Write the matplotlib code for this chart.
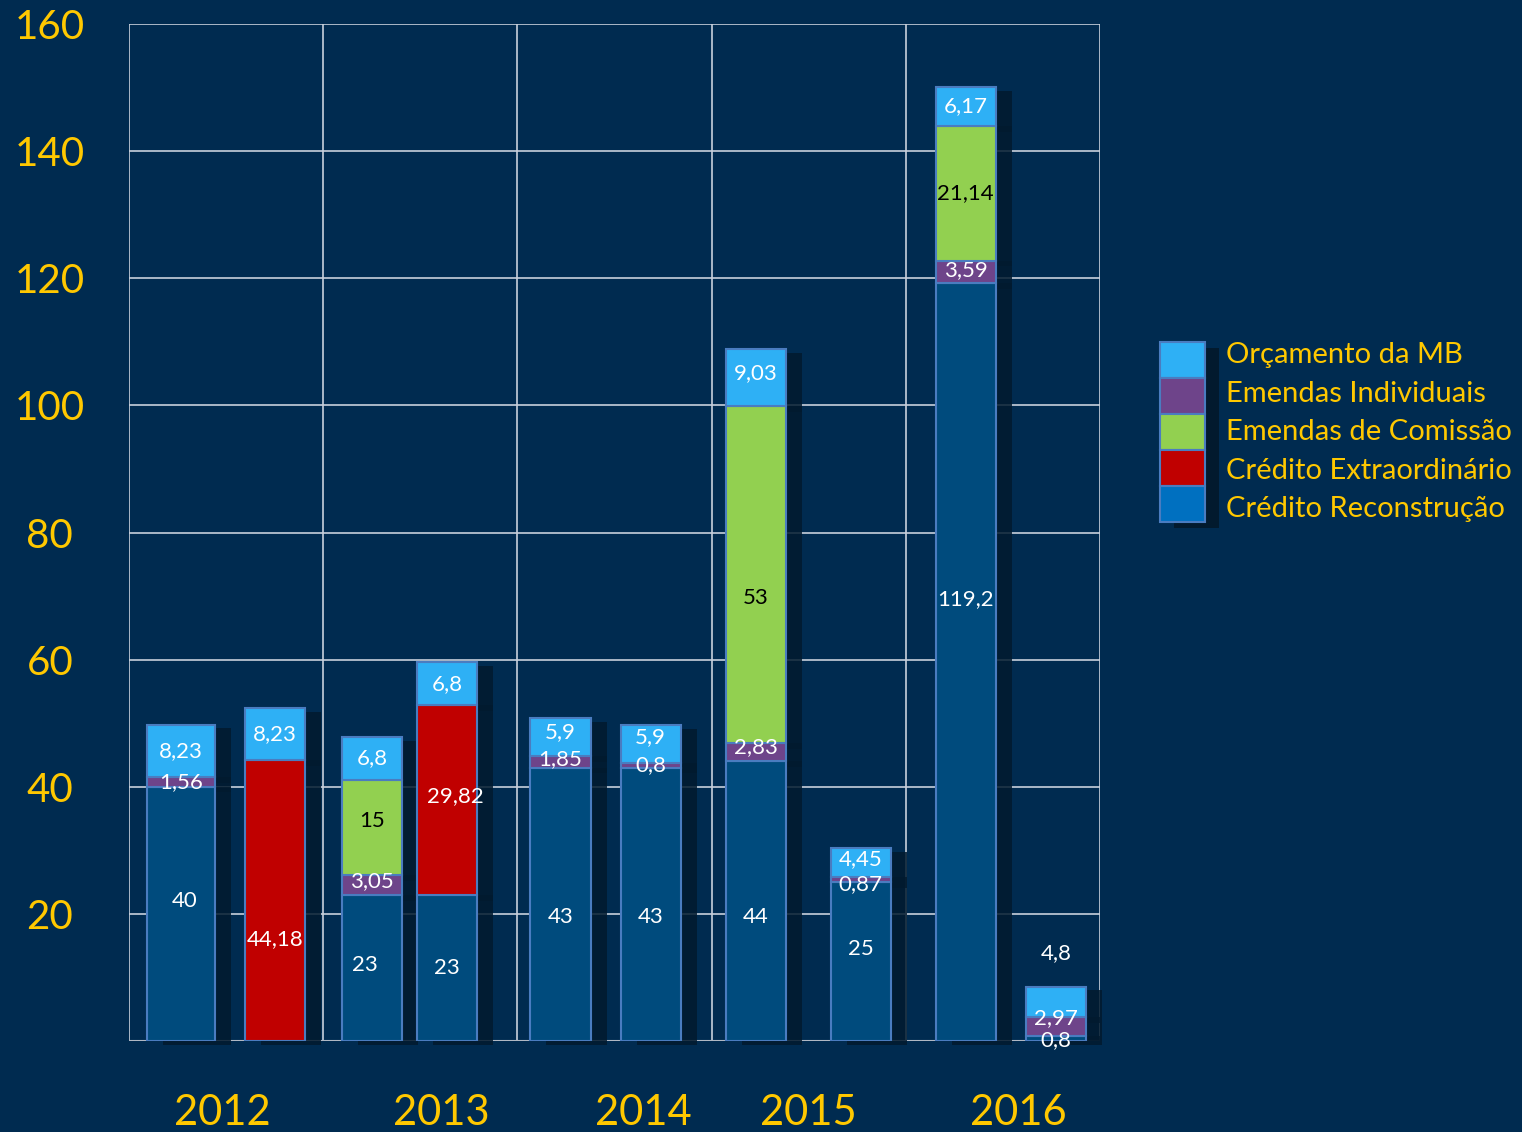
import matplotlib.pyplot as plt
from matplotlib.patches import Rectangle
import numpy as np

plt.rcParams['font.family'] = ['Lato', 'DejaVu Sans']

# ===================== 数据 =====================
years = ["2012", "2013", "2014", "2015", "2016"]
reconstrucao = [40, 0, 23, 23, 43, 43, 44, 25, 119.2, 0.8]
extraordinario = [0, 44.18, 0, 29.82, 0, 0, 0, 0, 0, 0]
individuais = [1.56, 0, 3.05, 0, 1.85, 0.8, 2.83, 0.87, 3.59, 2.97]
comissao = [0, 0, 15, 0, 0, 0, 53, 0, 21.14, 0]
orcamento = [8.23, 8.23, 6.8, 6.8, 5.9, 5.9, 9.03, 4.45, 6.17, 4.8]

legend_names = ["Orçamento da MB", "Emendas Individuais", "Emendas de Comissão",
                "Crédito Extraordinário", "Crédito Reconstrução"]

# ===================== 样式 / 位置 =====================
BG = '#002b50'
YELLOW = '#ffc800'
EDGE = '#4a7cc0'
SHADOW = '#021a2e'
C_REC = '#004b7d'
C_EXT = '#c00000'
C_IND = '#6e448a'
C_COM = '#92d050'
C_ORC = '#2eb0f5'
LEGEND_COLORS = [C_ORC, C_IND, C_COM, C_EXT, '#0070c0']

bar_x = [0.268, 0.753, 1.253, 1.639, 2.222, 2.686, 3.227, 3.768, 4.309, 4.773]
bar_w = [0.35, 0.31, 0.31, 0.31, 0.31, 0.31, 0.31, 0.31, 0.31, 0.31]
year_x = [0.48, 1.61, 2.65, 3.50, 4.58]

# 标签微调 (柱序号, 系列序号) -> (dx, dy)，系列序号按堆叠顺序
label_nudge = {
    (0, 0): (0.02, 2.0), (1, 1): (0, -6.0),
    (2, 0): (-0.036, 0.5), (2, 2): (0, 0.6), (2, 3): (0, 1.0),
    (3, 1): (0.041, 0.6),
    (4, 0): (0, -2.0), (4, 2): (0, 0.5), (4, 4): (0, 0.8),
    (5, 0): (0, -2.0), (5, 4): (0, 1.0),
    (6, 0): (0, -2.5), (6, 2): (0, 0.8), (6, 3): (0, -3.6), (6, 4): (0, 0.8),
    (7, 0): (0, 2.0), (7, 2): (0, -0.7), (7, 4): (0, 0.5),
    (8, 0): (0, 10.0), (8, 2): (0, 0.3),
    (9, 0): (0, -0.3), (9, 2): (0, 1.3), (9, 4): (0, 7.6),
}

W, H = 1522, 1132
fig = plt.figure(figsize=(W / 100, H / 100), dpi=100, facecolor=BG)
ax = fig.add_axes([129 / W, 1 - 1041 / H, (1100 - 129) / W, (1041 - 24) / H])
ax.set_facecolor(BG)
ax.set_xlim(0, 5)
ax.set_ylim(0, 160)

# 网格
for gx in range(6):
    ax.axvline(gx, color='#c8d0dc', lw=1.2, zorder=0)
for gy in range(20, 161, 20):
    ax.axhline(gy, color='#c8d0dc', lw=1.2, zorder=0)
for s in ax.spines.values():
    s.set_visible(False)
ax.axhline(0, color='#b0b8c4', lw=1.5, zorder=0)

ax.set_xticks([])
ax.set_yticks(range(20, 161, 20))
ax.set_yticklabels([str(v) for v in range(20, 161, 20)], color=YELLOW, fontsize=29, ha='center')
ax.tick_params(axis='y', length=0, pad=57)

dx = 16 / 194   # 阴影偏移
dy = 0.6

series = [
    (reconstrucao, C_REC, 'white'),
    (extraordinario, C_EXT, 'white'),
    (individuais, C_IND, 'white'),
    (comissao, C_COM, 'black'),
    (orcamento, C_ORC, 'white'),
]

totals = np.sum([s[0] for s in series], axis=0)

for i in range(len(bar_x)):
    x, w = bar_x[i], bar_w[i]
    # 阴影
    ax.add_patch(Rectangle((x - w / 2 + dx, -dy), w, totals[i], facecolor=SHADOW,
                           edgecolor='none', alpha=0.85, zorder=1, clip_on=False))
    bottom = 0
    for k, (vals, col, tcol) in enumerate(series):
        v = vals[i]
        if v == 0:
            continue
        ax.bar(x, v, w, bottom=bottom, color=col, edgecolor=EDGE, linewidth=1.5, zorder=3)
        if bottom > 0:
            # 分段处的小阴影
            ax.add_patch(Rectangle((x - w / 2 + dx, bottom - 0.9), w, 0.9, facecolor=SHADOW,
                                   edgecolor='none', alpha=0.8, zorder=2))
        label = f"{v:g}".replace('.', ',')
        ox, oy = label_nudge.get((i, k), (0, 0))
        ax.text(x + ox, bottom + v / 2 + oy, label, ha='center', va='center',
                color=tcol, fontsize=16, zorder=5)
        bottom += v

for yx, yr in zip(year_x, years):
    ax.text(yx, -11.4, yr, ha='center', va='center', color=YELLOW, fontsize=30, clip_on=False)

# ===================== 图例 =====================
lx0, lx1 = 1160, 1205
ly0 = 342
row_h = 36
fig.add_artist(Rectangle(((lx0 + 14) / W, 1 - (ly0 + 5 * row_h + 6) / H), (lx1 - lx0) / W,
                         (5 * row_h) / H, transform=fig.transFigure, facecolor=SHADOW,
                         edgecolor='none', zorder=1))
for j, (name, col) in enumerate(zip(legend_names, LEGEND_COLORS)):
    top = ly0 + j * row_h
    fig.add_artist(Rectangle((lx0 / W, 1 - (top + row_h) / H), (lx1 - lx0) / W, row_h / H,
                             transform=fig.transFigure, facecolor=col, edgecolor=EDGE,
                             linewidth=1.5, zorder=2))
    fig.text(1226 / W, 1 - (355 + j * 38.5) / H, name, ha='left', va='center',
             color=YELLOW, fontsize=21)

fig.savefig('out.png', dpi=100, facecolor=BG)
